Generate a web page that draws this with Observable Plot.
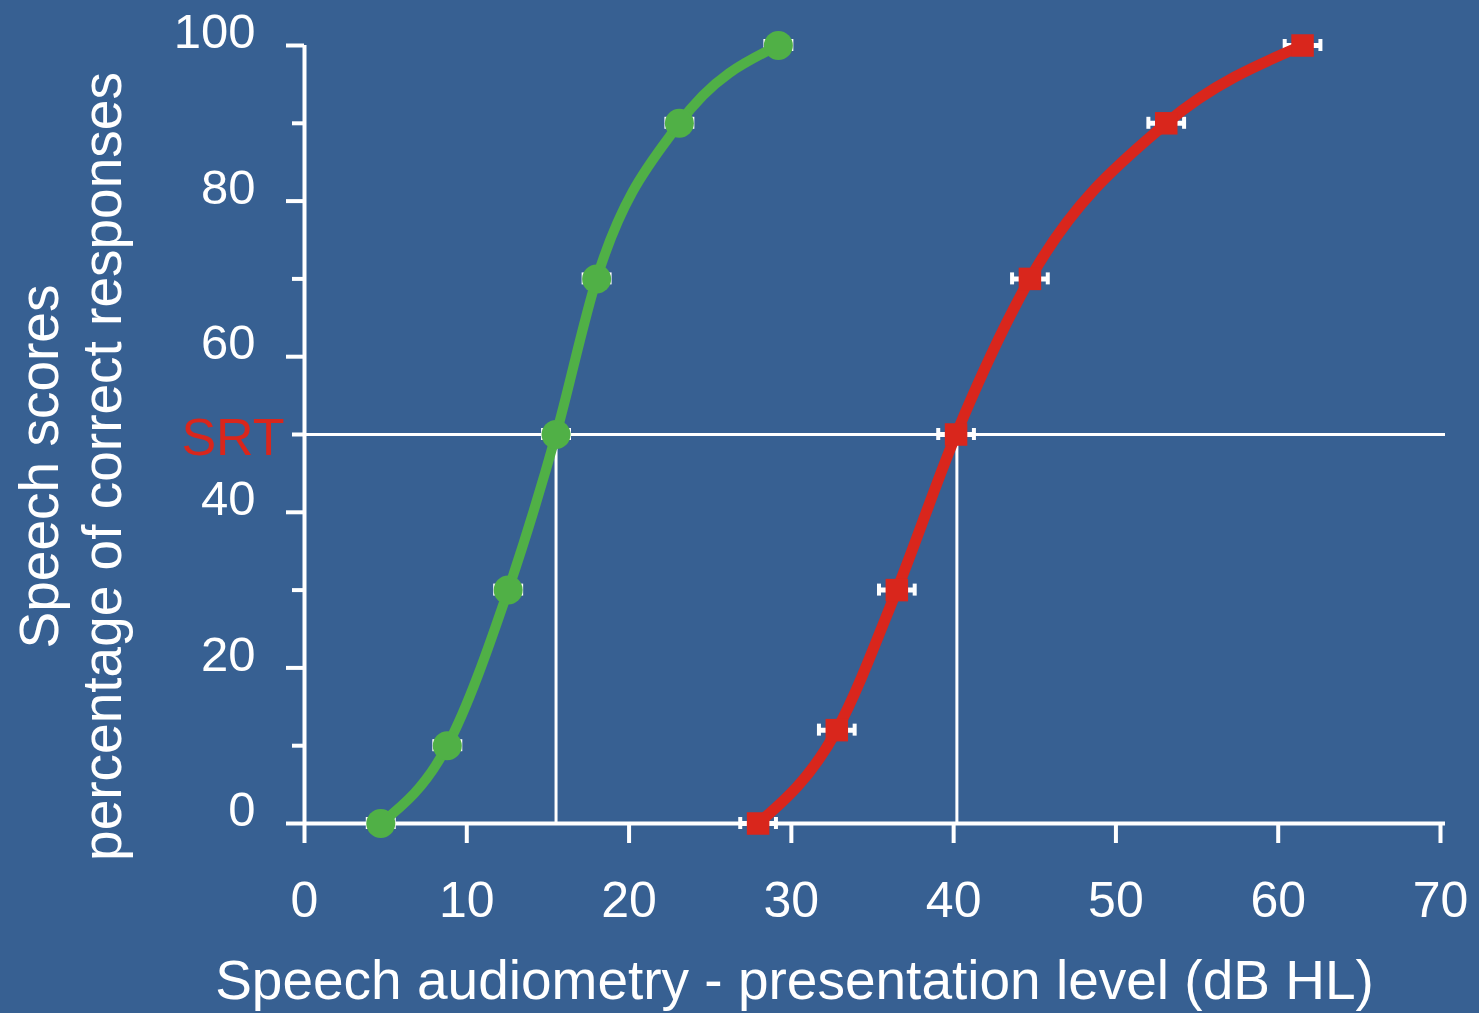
<!DOCTYPE html>
<html>
<head>
<meta charset="utf-8">
<script src="https://cdn.jsdelivr.net/npm/d3@7"></script>
<script src="https://cdn.jsdelivr.net/npm/@observablehq/plot@0.6"></script>
<style>
  html, body { margin: 0; padding: 0; background: #376092; }
</style>
</head>
<body>
<div id="chart"></div>
<script>
// ---- data ----
const levelsGreen = [4.7, 8.8, 12.55, 15.5, 18.0, 23.1, 29.2];
const scoresGreen = [0, 10, 30, 50, 70, 90, 100];
const levelsRed   = [27.95, 32.8, 36.5, 40.15, 44.7, 53.1, 61.5];
const scoresRed   = [0, 12, 30, 50, 70, 90, 100];
const errGreen = 0.8;   // dB half-width of error bars
const errRed   = 1.1;
const srtScore  = 50;
const srtLevels = [15.5, 40.2];
const xTicks  = [0, 10, 20, 30, 40, 50, 60, 70];
const yMajor  = [0, 20, 40, 60, 80, 100];
const yMinor  = [10, 30, 50, 70, 90];
const xTitle  = "Speech audiometry - presentation level (dB HL)";
const yTitle1 = "Speech scores";
const yTitle2 = "percentage of correct responses";
const srtLabel = "SRT";

// ---- styling ----
const bg = "#376092";
const green = "#50B046";
const red = "#D9261C";
const font = "'Liberation Sans', Arial, Helvetica, sans-serif";

const greenData = levelsGreen.map((x, i) => ({x, y: scoresGreen[i], e: errGreen}));
const redData   = levelsRed.map((x, i) => ({x, y: scoresRed[i], e: errRed}));
const allData = greenData.concat(redData);

const errMarks = [
  Plot.ruleY(allData, {x1: d => d.x - d.e, x2: d => d.x + d.e, y: "y", stroke: "white", strokeWidth: 5}),
  Plot.ruleX(allData, {x: d => d.x - d.e, y1: "y", y2: "y", insetTop: -6, insetBottom: -6, stroke: "white", strokeWidth: 4}),
  Plot.ruleX(allData, {x: d => d.x + d.e, y1: "y", y2: "y", insetTop: -6, insetBottom: -6, stroke: "white", strokeWidth: 4})
];

const chart = Plot.plot({
  width: 1479,
  height: 1013,
  marginLeft: 304,
  marginRight: 39,
  marginTop: 45,
  marginBottom: 190,
  style: {background: bg, color: "white", fontFamily: font, overflow: "visible"},
  x: {domain: [0, 70], label: null},
  y: {domain: [0, 100], label: null},
  marks: [
    // SRT guide lines
    Plot.ruleY([srtScore], {x1: 0, x2: 70, stroke: "white", strokeWidth: 3, insetRight: -5}),
    Plot.ruleX(srtLevels, {x: d => d, y1: 0, y2: srtScore, stroke: "white", strokeWidth: 3}),
    // axis lines
    Plot.ruleY([0], {stroke: "white", strokeWidth: 4, insetRight: -5}),
    Plot.ruleX([0], {stroke: "white", strokeWidth: 4}),
    // x axis
    Plot.axisX(xTicks, {tickSize: 20, tickPadding: 38, fontSize: 50, strokeWidth: 4, stroke: "white", fill: "white", label: null}),
    // y axis major ticks + labels
    Plot.axisY(yMajor, {tickSize: 18, strokeWidth: 4, stroke: "white", fill: "none", label: null}),
    Plot.axisY(yMajor, {tickSize: 18, tickPadding: 31, fontSize: 49, stroke: "none", fill: "white", dy: -13, label: null}),
    // y axis minor ticks
    Plot.axisY(yMinor, {tickSize: 12, strokeWidth: 4, stroke: "white", fill: "none", label: null}),
    // error bars
    ...errMarks,
    // curves
    Plot.line(greenData, {x: "x", y: "y", curve: "monotone-x", stroke: green, strokeWidth: 10}),
    Plot.line(redData, {x: "x", y: "y", curve: "monotone-x", stroke: red, strokeWidth: 11}),
    // markers
    Plot.dot(greenData, {x: "x", y: "y", r: 14.5, fill: green}),
    Plot.dot(redData, {x: "x", y: "y", r: 12.7, symbol: "square", fill: red}),
    // SRT label
    Plot.text([srtLabel], {x: 0, y: srtScore, text: d => d, textAnchor: "end", lineAnchor: "bottom", dx: -20, dy: 20, fontSize: 52, fill: red}),
    // titles
    Plot.text([xTitle], {frameAnchor: "bottom", text: d => d, textAnchor: "middle", lineAnchor: "bottom", dx: -78, dy: 175, fontSize: 55, fill: "white"}),
    Plot.text([yTitle1], {frameAnchor: "left", text: d => d, rotate: -90, textAnchor: "middle", lineAnchor: "bottom", dx: -247, dy: 32, fontSize: 55, fill: "white"}),
    Plot.text([yTitle2], {frameAnchor: "left", text: d => d, rotate: -90, textAnchor: "middle", lineAnchor: "bottom", dx: -184, dy: 32, fontSize: 55, fill: "white"})
  ]
});

document.getElementById("chart").appendChild(chart);
</script>
</body>
</html>
